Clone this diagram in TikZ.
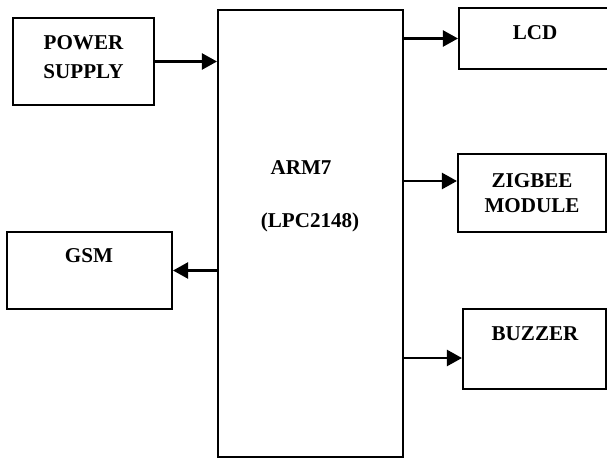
\documentclass[tikz,border=0pt]{standalone}
\usepackage{fontspec}
\setmainfont{Liberation Serif}
\usetikzlibrary{arrows.meta}
\usetikzlibrary{positioning}
\tikzset{arrowout/.style={->,>={Triangle[length=3mm,width=3.2mm]},line width=1.3pt},blk/.style={rectangle,draw=black,line width=1.2pt,align=center,inner sep=0pt},lbl/.style={align=center,inner sep=0pt}}

\begin{document}
\begin{tikzpicture}[x=0.02cm,y=-0.02cm,font=\fontsize{12}{14.5}\selectfont\bfseries]

\useasboundingbox (0,0) rectangle (607,459);

% processor
\node (arm) at (310.5,233.5)[blk,minimum width=3.7cm,minimum height=8.94cm]{};
\node (armtxt) at (301,168)[lbl]{ARM7};
\node (lpctxt) at (310,222)[lbl]{(LPC2148)};

% input side
\node (pwr) at (83.5,61.5)[blk,minimum width=2.82cm,minimum height=1.74cm]{};
\node (pwrtxt) at (83.5,57.5)[lbl]{POWER\\[2pt]SUPPLY};
\node (gsm) at (89.5,270.5)[blk,minimum width=3.3cm,minimum height=1.54cm]{};
\node (gsmtxt) at (89,256)[lbl]{GSM};

% output side
\node (lcd) at (535.5,38.5)[blk,minimum width=3.06cm,minimum height=1.22cm]{};
\node (lcdtxt) at (535,33)[lbl]{LCD};
\node (zig) at (532,193)[blk,minimum width=2.96cm,minimum height=1.56cm]{ZIGBEE\\MODULE};
\node (buz) at (534.5,349)[blk,minimum width=2.86cm,minimum height=1.6cm]{};
\node (buztxt) at (535,334)[lbl]{BUZZER};

\coordinate (zigin) at (zig.west |- 0,181);
\coordinate (buzin) at (buz.west |- 0,358);

\draw[arrowout] (pwr.east) -- (pwr.east -| arm.west);
\draw[arrowout] (arm.west |- gsm.east) -- (gsm.east);
\draw[arrowout] (arm.east |- lcd.west) -- (lcd.west);
\draw[arrowout] (arm.east |- zigin) -- (zigin);
\draw[arrowout] (arm.east |- buzin) -- (buzin);

\end{tikzpicture}
\end{document}
